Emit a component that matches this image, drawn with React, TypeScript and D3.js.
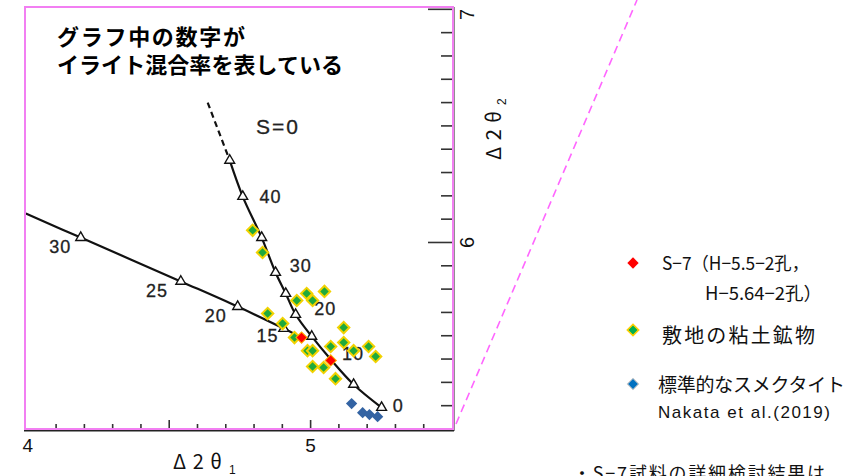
import React from 'react';
import * as d3 from 'd3';

// S=0 curve (Δ2θ1, Δ2θ2) with illite % at each marker
const s0Dashed: [number, number][] = [[4.636, 6.60], [4.714, 6.352]];
const s0Curve: [number, number][] = [
  [4.714, 6.352], [4.76, 6.197], [4.827, 6.021], [4.876, 5.871], [4.912, 5.781],
  [4.947, 5.691], [5.004, 5.597], [5.07, 5.50], [5.152, 5.391], [5.251, 5.292],
];
const s0Markers: [number, number][] = [
  [4.714, 6.352], [4.76, 6.197], [4.827, 6.021], [4.876, 5.871], [4.912, 5.781],
  [4.947, 5.691], [5.004, 5.597], [5.152, 5.391], [5.251, 5.292],
];
// second curve (left branch)
const s1Curve: [number, number][] = [
  [3.993, 6.124], [4.187, 6.021], [4.541, 5.833], [4.742, 5.725], [4.905, 5.631], [4.94, 5.61],
];
const s1Markers: [number, number][] = [[4.187, 6.021], [4.541, 5.833], [4.742, 5.725], [4.905, 5.631]];

const curveLabels: { t: string; x: number; y: number }[] = [
  { t: '40', x: 4.858, y: 6.195 },
  { t: '30', x: 4.965, y: 5.90 },
  { t: '20', x: 5.052, y: 5.716 },
  { t: '10', x: 5.15, y: 5.52 },
  { t: '0', x: 5.31, y: 5.30 },
  { t: '30', x: 4.115, y: 5.98 },
  { t: '25', x: 4.457, y: 5.79 },
  { t: '20', x: 4.665, y: 5.684 },
  { t: '15', x: 4.848, y: 5.598 },
];

const siteClay: [number, number][] = [
  [4.795, 6.052], [4.83, 5.957], [5.049, 5.79], [4.986, 5.781], [5.007, 5.751],
  [4.951, 5.751], [4.848, 5.695], [4.901, 5.652], [4.943, 5.592], [5.117, 5.635],
  [5.117, 5.571], [5.071, 5.554], [4.989, 5.536], [5.007, 5.536], [5.152, 5.536],
  [5.205, 5.554], [5.23, 5.511], [5.007, 5.468], [5.046, 5.464], [5.088, 5.416],
];
const s7: [number, number][] = [[4.968, 5.592], [5.071, 5.494]];
const standardSmectite: [number, number][] = [[5.145, 5.309], [5.184, 5.27], [5.208, 5.262], [5.237, 5.253]];

const xTicks = d3.range(41, 55).map(d => d / 10);
const yTicks = d3.range(53, 71).map(d => d / 10);
const xTickLabels = [4, 5];
const yTickLabels = [6, 7];

const W = 861;
const H = 476;

const App = () => {
  const x = d3.scaleLinear().domain([3.99, 5.5]).range([25, 452]);
  const y = d3.scaleLinear().domain([5.2, 7.01]).range([429, 7]);

  const line = d3.line<[number, number]>().x(d => x(d[0])).y(d => y(d[1])).curve(d3.curveCatmullRom);
  const tri = d3.symbol().type(d3.symbolTriangle).size(42)();
  const dia = d3.symbol().type(d3.symbolSquare).size(64)();

  const jp = '"Noto Sans CJK JP", sans-serif';
  const latin = '"Liberation Sans", Arial, sans-serif';

  return (
    <svg width={W} height={H} style={{ position: 'absolute', left: 0, top: 0, background: '#fff' }}>
      {/* axes from the scanned figure */}
      <line x1={24} x2={454} y1={430.5} y2={430.5} stroke="#222" strokeWidth={2} />
      <line x1={453.5} x2={453.5} y1={7} y2={431} stroke="#222" strokeWidth={2} />
      {xTicks.map(t => (
        <line key={'xt' + t} x1={x(t)} x2={x(t)} y1={430} y2={t === 5 || t === 4.5 ? 420 : 424} stroke="#333" strokeWidth={1.6} />
      ))}
      {yTicks.map(t => (
        <line key={'yt' + t} x1={453} x2={Math.abs(t - 6) < 1e-6 || Math.abs(t - 7) < 1e-6 ? 428 : 441} y1={y(t)} y2={y(t)} stroke="#333" strokeWidth={1.6} />
      ))}
      {xTickLabels.map(t => (
        <text key={'xl' + t} x={x(t)} y={452} textAnchor="middle" fontFamily={latin} fontSize={19} fill="#111">{t}</text>
      ))}
      {yTickLabels.map(t => (
        <text key={'yl' + t} transform={`translate(474,${y(t) + (t === 7 ? 5 : 0)}) rotate(-90)`} textAnchor="middle" fontFamily={latin} fontSize={20} fill="#111">{t}</text>
      ))}
      <text x={173} y={469} fontFamily={jp} fontSize={20} fill="#111" textLength={49} lengthAdjust="spacing">Δ2θ</text>
      <text x={229} y={474} fontFamily={latin} fontSize={12} fill="#111">1</text>
      <g transform="translate(501,160) rotate(-90)">
        <text x={0} y={0} fontFamily={jp} fontSize={20} fill="#111" textLength={49} lengthAdjust="spacing">Δ2θ</text>
        <text x={55} y={5} fontFamily={latin} fontSize={12} fill="#111">2</text>
      </g>

      {/* curves */}
      <path d={line(s0Dashed) ?? ''} fill="none" stroke="#111" strokeWidth={2.2} strokeDasharray="6,4" />
      <path d={line(s0Curve) ?? ''} fill="none" stroke="#111" strokeWidth={2.2} />
      <path d={line(s1Curve) ?? ''} fill="none" stroke="#111" strokeWidth={2.2} />
      {[...s0Markers, ...s1Markers].map((d, i) => (
        <path key={'m' + i} d={tri ?? ''} transform={`translate(${x(d[0])},${y(d[1])})`} fill="#fff" stroke="#111" strokeWidth={1.4} />
      ))}
      {curveLabels.map((l, i) => (
        <text key={'cl' + i} x={x(l.x)} y={y(l.y)} textAnchor="middle" dominantBaseline="central" fontFamily={latin} fontSize={18} fill="#222" stroke="#222" strokeWidth={0.3} letterSpacing={1}>{l.t}</text>
      ))}
      <text x={278} y={126} textAnchor="middle" dominantBaseline="central" fontFamily={latin} fontSize={21} fill="#222" stroke="#222" strokeWidth={0.3} letterSpacing={2}>S=0</text>

      {/* data points */}
      {siteClay.map((d, i) => (
        <path key={'g' + i} d={dia ?? ''} transform={`translate(${x(d[0])},${y(d[1])}) rotate(45)`} fill="#1faa3c" stroke="#f2d200" strokeWidth={2} />
      ))}
      {s7.map((d, i) => (
        <path key={'r' + i} d={dia ?? ''} transform={`translate(${x(d[0])},${y(d[1])}) rotate(45)`} fill="#ff0000" stroke="#ffb000" strokeWidth={1} />
      ))}
      {standardSmectite.map((d, i) => (
        <path key={'b' + i} d={dia ?? ''} transform={`translate(${x(d[0])},${y(d[1])}) rotate(45)`} fill="#3363a3" />
      ))}

      {/* overlay frame and guide */}
      <rect x={25} y={7} width={428} height={422} fill="none" stroke="#f27ff2" strokeWidth={2} />
      <line x1={456} y1={424} x2={637} y2={0} stroke="#ff66ff" strokeWidth={1.6} strokeDasharray="8,5" />

      <text x={57} y={45} fontFamily={jp} fontWeight={700} fontSize={22} fill="#000" textLength={188} lengthAdjust="spacing">グラフ中の数字が</text>
      <text x={57} y={73} fontFamily={jp} fontWeight={700} fontSize={22} fill="#000" textLength={286} lengthAdjust="spacing">イライト混合率を表している</text>

      {/* legend */}
      <path d={dia ?? ''} transform="translate(633,263) rotate(45)" fill="#ff0000" />
      <text x={662} y={270} fontFamily={jp} fontSize={18} fill="#111" textLength={147} lengthAdjust="spacingAndGlyphs">S−7（H−5.5−2孔，</text>
      <text x={705} y={300} fontFamily={jp} fontSize={18} fill="#111" textLength={117} lengthAdjust="spacingAndGlyphs">H−5.64−2孔）</text>
      <path d={dia ?? ''} transform="translate(633,330) rotate(45)" fill="#00b050" stroke="#ffd000" strokeWidth={1.6} />
      <text x={662} y={343} fontFamily={jp} fontSize={20} fill="#111" textLength={153} lengthAdjust="spacing">敷地の粘土鉱物</text>
      <path d={dia ?? ''} transform="translate(633,384) rotate(45)" fill="#0070c0" stroke="#c8c8c8" strokeWidth={1} />
      <text x={658} y={392} fontFamily={jp} fontSize={19} fill="#111" textLength={187} lengthAdjust="spacing">標準的なスメクタイト</text>
      <text x={658} y={418} fontFamily={latin} fontSize={17} fill="#111" textLength={172} lengthAdjust="spacing">Nakata et al.(2019)</text>
      <text x={573} y={480} fontFamily={jp} fontSize={18} fill="#111" textLength={252} lengthAdjust="spacing">・S−7試料の詳細検討結果は</text>
    </svg>
  );
};

export default App;
